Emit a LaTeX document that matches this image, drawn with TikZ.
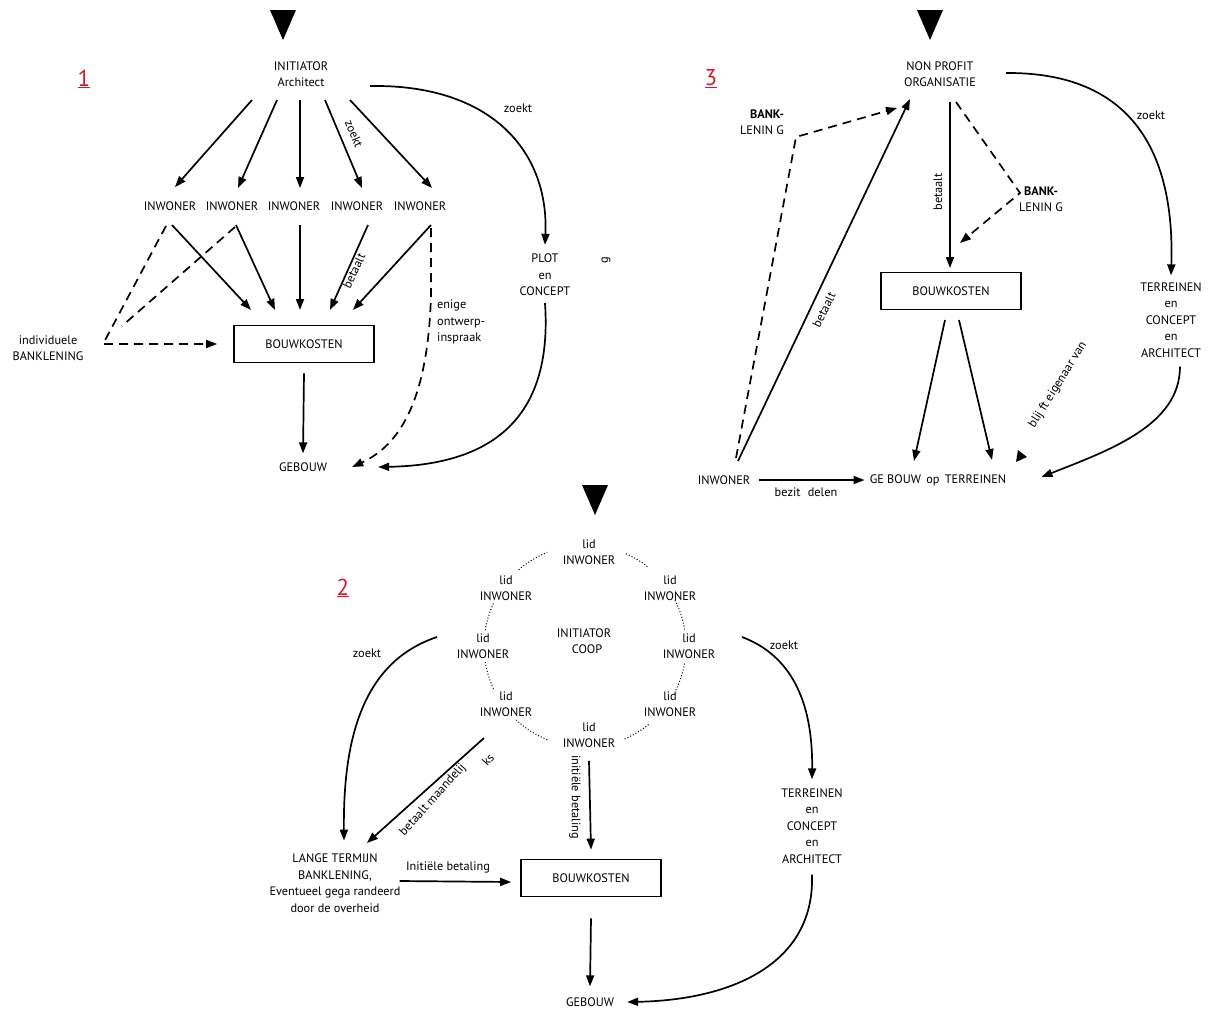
\documentclass[tikz,border=0pt]{standalone}
\usepackage{fontspec}
\setmainfont{PT Sans}
\usetikzlibrary{arrows.meta}
\definecolor{numred}{HTML}{D7192A}
\begin{document}
\begin{tikzpicture}[x=1pt,y=-1pt,
  every node/.style={font=\fontsize{12.3}{16.5}\selectfont, inner sep=1pt, align=center},
  arr/.style={line width=1.7pt, -{Triangle[length=11pt,width=8pt]}},
  ln/.style={line width=1.7pt},
  dsh/.style={dash pattern=on 9pt off 6pt},
  box/.style={draw, line width=1.7pt, minimum width=140pt, minimum height=37pt},
  num/.style={text=numred, font=\fontsize{23}{25}\selectfont},
  dotarc/.style={dotted, line width=1pt}]
\useasboundingbox (0,0) rectangle (1208,1010);

%================ PANEL 1 ================
\fill (270,10) -- (296,10) -- (283,40) -- cycle;
\node[num] (n1) at (84,79) {\underline{1}};
\node (init1) at (301,74) {INITIATOR\\Architect};
\foreach \i/\x in {1/170,2/232,3/294,4/357,5/420} \node (p1i\i) at (\x,206) {INWONER};
\node[box] (bk1) at (304,344) {BOUWKOSTEN};
\node (geb1) at (303,467) {GEBOUW};
\node (bank1) at (48,348) {individuele\\BANKLENING};
\node (plot1) at (545,275) {PLOT\\en\\CONCEPT};
\node[rotate=90] (g1) at (606,260) {g};
\node[anchor=west, align=left] (ont1) at (436,322) {enige\\ontwerp-\\inspraak};

\coordinate (c1a) at (252,100); \coordinate (e1a) at (175,187);
\coordinate (c1b) at (277,100); \coordinate (e1b) at (238,188);
\coordinate (c1c) at (300,100); \coordinate (e1c) at (300,188);
\coordinate (c1d) at (325,100); \coordinate (e1d) at (362,188);
\coordinate (c1e) at (350,100); \coordinate (e1e) at (432,188);
\foreach \s in {a,b,c,d,e} \draw[arr] (c1\s) -- (e1\s);
\node[rotate=-67] (zk1) at (354,134) {zoekt};

\coordinate (f1a) at (172,225); \coordinate (g1a) at (251,310);
\coordinate (f1b) at (236,225); \coordinate (g1b) at (275,310);
\coordinate (f1c) at (300,225); \coordinate (g1c) at (300,310);
\coordinate (f1d) at (368,225); \coordinate (g1d) at (330,310);
\coordinate (f1e) at (431,225); \coordinate (g1e) at (353,310);
\foreach \s in {a,b,c,d,e} \draw[arr] (f1\s) -- (g1\s);
\node[rotate=65] (bt1) at (354,271) {betaalt};

\coordinate (h1a) at (166,226); \coordinate (h1k) at (103,344);
\coordinate (h1c) at (235,227); \coordinate (h1d) at (122,326);
\draw[arr, dsh] (h1a) -- (h1k) -- ([xshift=-16pt]bk1.west);
\draw[ln, dsh] (h1c) -- (h1d);

\draw[arr] ([yshift=-10pt]bk1.south) -- ([yshift=8pt]geb1.north);
\coordinate (d1s) at (431,228);
\draw[arr, dsh] (d1s) -- (431,295) .. controls (428,400) and (400,445) .. ([xshift=24pt]geb1.east);
\coordinate (z1s) at (370,86);
\draw[arr] (z1s) .. controls (490,84) and (549,150) .. ([yshift=8pt]plot1.north);
\node (zk1b) at (518,108) {zoekt};
\draw[arr] ([yshift=-6pt]plot1.south) .. controls (553,420) and (490,465) .. ([xshift=50pt]geb1.east);

%================ PANEL 3 ================
\fill (917,10) -- (943,10) -- (930,40) -- cycle;
\node[num] (n3) at (711,79) {\underline{3}};
\node (npo) at (940,74) {NON PROFIT\\ORGANISATIE};
\node[align=right] (bankA) at (762,122) {\textbf{BANK-}\\LENIN G};
\node[align=center] (bankB) at (1041,199) {\textbf{BANK-}\\LENIN G};
\node[box] (bk3) at (951,291) {BOUWKOSTEN};
\node (terr3) at (1171,320) {TERREINEN\\en\\CONCEPT\\en\\ARCHITECT};
\node (inw3) at (724,480) {INWONER};
\node (geb3) at (938,480) {GE BOUW\, op\, TERREINEN};

\coordinate (q3a) at (736,458); \coordinate (q3k) at (796,137); \coordinate (q3t) at (897,108);
\draw[arr, dsh] (q3a) -- (q3k) -- (q3t);
\coordinate (s3a) at (738,461); \coordinate (s3t) at (910,99);
\draw[arr] (s3a) -- (s3t);
\node[rotate=64] (bt3a) at (824,310) {betaalt};

\coordinate (v3s) at (950,102); \coordinate (v3t) at (950,268);
\draw[arr] (v3s) -- (v3t);
\node[rotate=90] (bt3b) at (938,192) {betaalt};
\coordinate (w3s) at (956,102); \coordinate (w3k) at (1020,193); \coordinate (w3t) at (960,243);
\draw[arr, dsh] (w3s) -- (w3k) -- (w3t);

\coordinate (b3a) at (945,320); \coordinate (b3at) at (914,461);
\coordinate (b3b) at (959,320); \coordinate (b3bt) at (992,460);
\draw[arr] (b3a) -- (b3at);
\draw[arr] (b3b) -- (b3bt);
\node[rotate=58] (blf) at (1058,385) {blij ft eigenaar van};
\fill (1016,462) -- (1018,450) -- (1027,457) -- cycle;

\coordinate (z3s) at (1006,73);
\draw[arr] (z3s) .. controls (1130,72) and (1175,150) .. ([yshift=6pt]terr3.north);
\node (zk3) at (1151,115) {zoekt};
\draw[arr] ([xshift=9pt,yshift=-8pt]terr3.south) .. controls (1180,425) and (1110,450) .. ([xshift=34pt,yshift=3pt]geb3.east);

\draw[arr] ([xshift=8pt]inw3.east) -- ([xshift=-4pt]geb3.west);
\node (bez) at (806,492) {bezit\,\, delen};

%================ PANEL 2 ================
\fill (582,485) -- (608,485) -- (595,515) -- cycle;
\node[num] (n2) at (343,588) {\underline{2}};
\node (l2a) at (589,552) {lid\\INWONER};
\node (l2b) at (506,588) {lid\\INWONER};
\node (l2c) at (670,588) {lid\\INWONER};
\node (l2d) at (483,646) {lid\\INWONER};
\node (l2e) at (689,646) {lid\\INWONER};
\node (l2f) at (506,704) {lid\\INWONER};
\node (l2g) at (670,704) {lid\\INWONER};
\node (l2h) at (589,735) {lid\\INWONER};
\node (coop) at (584,641) {INITIATOR\\\hspace*{6pt}COOP};

\coordinate (cc) at (585,646);
\foreach \a/\b in {229/248, 189/206, 155/171, 112/133, 294/309, 333/351, 10/27, 51/67}
  \draw[dotarc] ([shift={(\a:101)}]cc) arc[start angle=\a, end angle=\b, radius=101];

\node (lange) at (335,883) {LANGE TERMIJN\\BANKLENING,\\Eventueel gega randeerd\\door de overheid};
\node[box] (bk2) at (591,878) {BOUWKOSTEN};
\node (geb2) at (590,1002) {GEBOUW};
\node (terr2) at (812,826) {TERREINEN\\en\\CONCEPT\\en\\ARCHITECT};

\coordinate (z2s) at (437,637);
\draw[arr] (z2s) .. controls (362,662) and (343,740) .. ([xshift=9pt,yshift=12pt]lange.north);
\node (zk2a) at (367,653) {zoekt};
\coordinate (m2s) at (484,738);
\draw[arr] (m2s) -- (367,843);
\node[rotate=48] (bm) at (433,800) {betaalt maandelij};
\node[rotate=48] (ks) at (488,760) {ks};
\draw[arr] ([yshift=-12pt]l2h.south) -- ([yshift=9pt]bk2.north);
\node[rotate=-90] (ib) at (575,797) {initiële betaling};
\draw[arr] ([xshift=-2pt,yshift=2pt]lange.east) -- ([xshift=-9pt,yshift=-4pt]bk2.west);
\node (ib2) at (448,867) {Initiële betaling};
\draw[arr] ([yshift=-21pt]bk2.south) -- ([yshift=10pt]geb2.north);
\coordinate (z2r) at (742,637);
\draw[arr] (z2r) .. controls (790,655) and (813,700) .. ([yshift=8pt]terr2.north);
\node (zk2b) at (784,645) {zoekt};
\draw[arr] ([yshift=-10pt]terr2.south) .. controls (815,965) and (730,1000) .. ([xshift=12pt]geb2.east);
\end{tikzpicture}
\end{document}
